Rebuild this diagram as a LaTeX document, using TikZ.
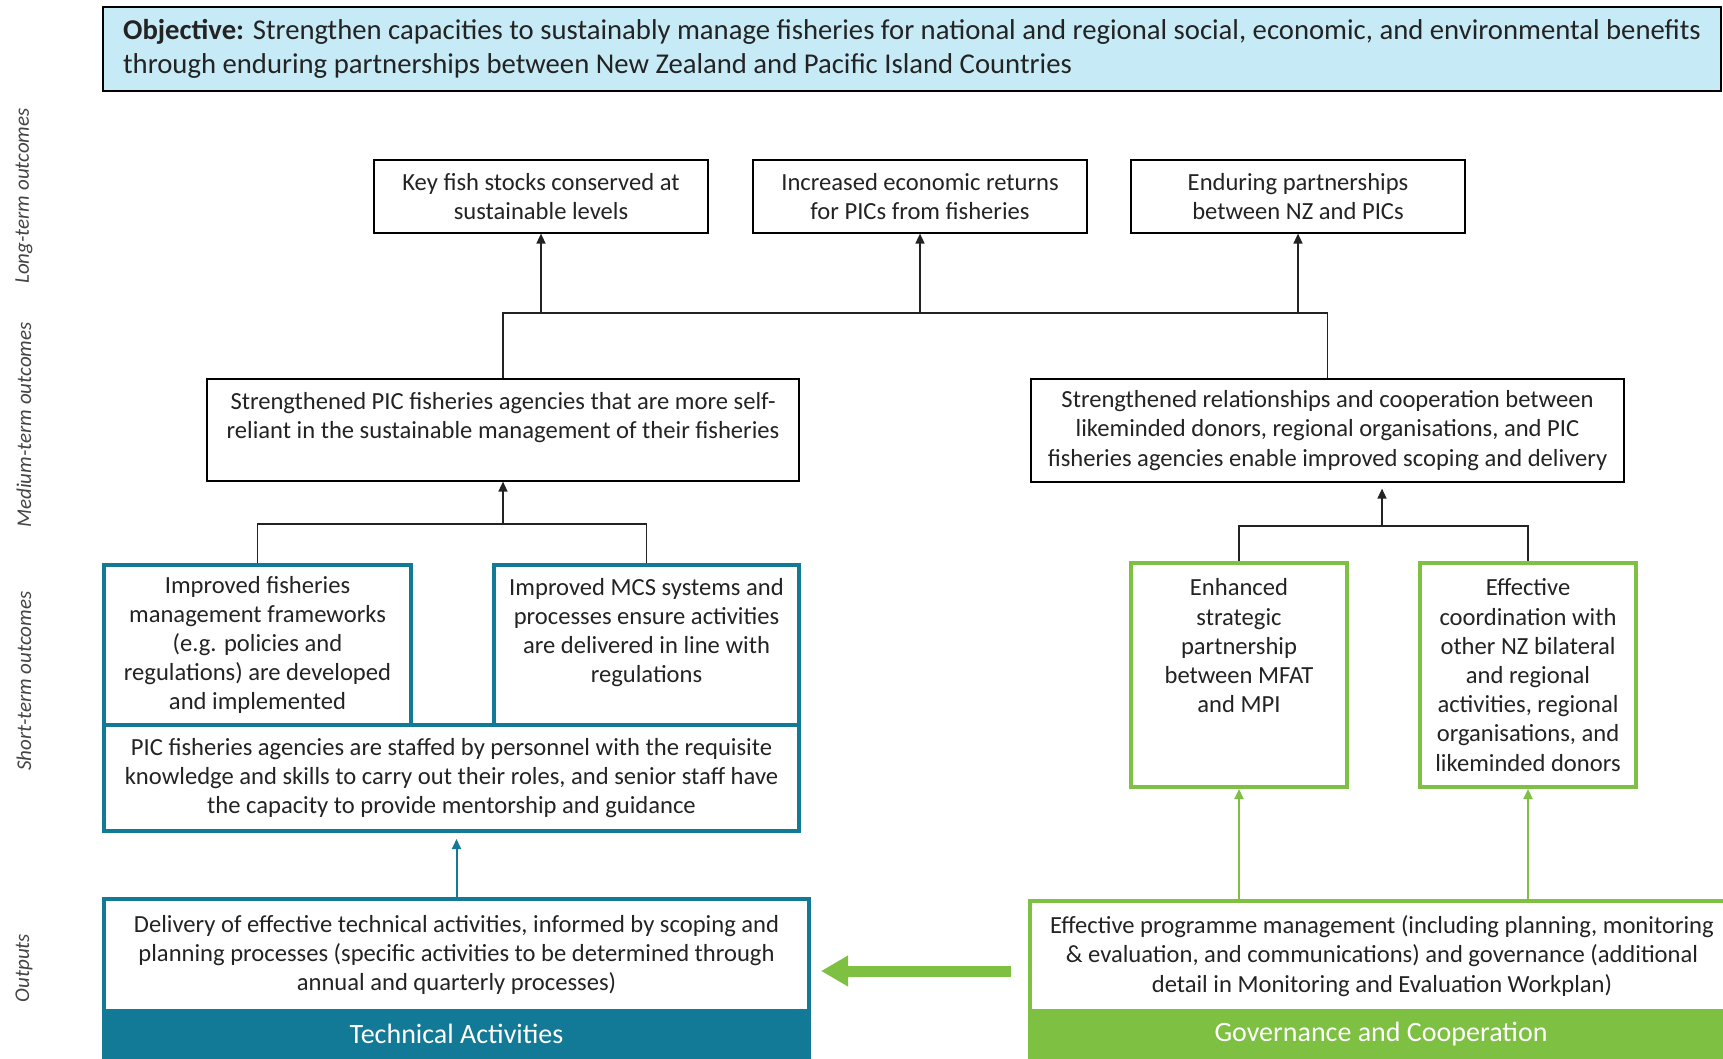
\documentclass[tikz,border=0pt]{standalone}
\usepackage{fontspec}
\setmainfont{Carlito}
\usetikzlibrary{arrows.meta}
\definecolor{teal1}{RGB}{18,122,150}
\definecolor{green1}{RGB}{125,192,66}
\definecolor{objfill}{RGB}{199,235,246}
\definecolor{ink}{RGB}{35,35,35}
\begin{document}
\begin{tikzpicture}[x=0.5pt,y=-0.5pt,
  txt/.style={font=\fontsize{12.3}{14.6}\selectfont, text=ink, align=center, inner sep=0pt},
  blackbox/.style={txt, draw=black, line width=0.6pt},
  tealbox/.style={txt, draw=teal1, line width=2pt},
  greenbox/.style={txt, draw=green1, line width=2pt},
  conn/.style={draw=ink, line width=0.75pt},
  arr/.style={conn, -{Triangle[length=5pt,width=4.5pt]}},
  tealarr/.style={draw=teal1, line width=1pt, -{Triangle[length=5pt,width=4.5pt]}},
  greenarr/.style={draw=green1, line width=1pt, -{Triangle[length=5pt,width=4.5pt]}},
  bigarr/.style={draw=green1, line width=5.5pt, -{Triangle[length=13.5pt,width=14.5pt]}},
  sidelab/.style={rotate=90, font=\fontsize{10.5}{12}\selectfont\itshape, text=ink!85},
  barlab/.style={font=\fontsize{14}{16}\selectfont, text=white, inner sep=0pt}
]
\useasboundingbox (0,0) rectangle (1723,1059);

% objective
\node[txt, draw=black, line width=1pt, fill=objfill, align=left,
  font=\fontsize{14.35}{17}\selectfont,
  minimum width=809pt, minimum height=42pt] (obj) at (912,49)
  {\textbf{Objective:} Strengthen capacities to sustainably manage fisheries for national and regional social, economic, and environmental benefits\\through enduring partnerships between New Zealand and Pacific Island Countries};

% side labels
\node[sidelab] (labLT) at (24,196) {Long-term outcomes};
\node[sidelab] (labMT) at (24,425) {Medium-term outcomes};
\node[sidelab] (labST) at (24,681) {Short-term outcomes};
\node[sidelab] (labOP) at (24,968) {Outputs};

% long-term
\node[blackbox, minimum width=167pt, minimum height=36.5pt] (LT1) at (541,196.5)
  {Key fish stocks conserved at\\sustainable levels};
\node[blackbox, minimum width=167pt, minimum height=36.5pt] (LT2) at (920,196.5)
  {Increased economic returns\\for PICs from fisheries};
\node[blackbox, minimum width=167pt, minimum height=36.5pt] (LT3) at (1298,196.5)
  {Enduring partnerships\\between NZ and PICs};

% medium-term
\node[blackbox, minimum width=296pt, minimum height=51pt] (ML) at (503,430)
  {Strengthened PIC fisheries agencies that are more self-\\reliant in the sustainable management of their fisheries\\~};
\node[blackbox, minimum width=296.5pt, minimum height=51.5pt] (MR) at (1327.5,430.5)
  {Strengthened relationships and cooperation between\\likeminded donors, regional organisations, and PIC\\fisheries agencies enable improved scoping and delivery};

% short-term left
\node[tealbox, minimum width=153.5pt, minimum height=80pt] (A) at (257.5,645)
  {Improved fisheries\\management frameworks\\(e.g. policies and\\regulations) are developed\\and implemented};
\node[tealbox, minimum width=152.5pt, minimum height=80pt] (B) at (646.5,645)
  {Improved MCS systems and\\processes ensure activities\\are delivered in line with\\regulations\\~};
\node[tealbox, minimum width=347.5pt, minimum height=53pt] (C) at (451.5,778)
  {PIC fisheries agencies are staffed by personnel with the requisite\\knowledge and skills to carry out their roles, and senior staff have\\the capacity to provide mentorship and guidance};

% short-term right
\node[greenbox, minimum width=108pt, minimum height=112pt] (D) at (1239,675)
  {Enhanced\\strategic\\partnership\\between MFAT\\and MPI\\~\\~};
\node[greenbox, minimum width=108pt, minimum height=112pt] (E) at (1528,675)
  {Effective\\coordination with\\other NZ bilateral\\and regional\\activities, regional\\organisations, and\\likeminded donors};

% outputs
\node[tealbox, minimum width=352.5pt, minimum height=56pt] (OL) at (456.5,955)
  {Delivery of effective technical activities, informed by scoping and\\planning processes (specific activities to be determined through\\annual and quarterly processes)};
\node[draw=teal1, fill=teal1, line width=2pt, minimum width=352.5pt, minimum height=27pt, inner sep=0pt] (OLbar) at (456.5,1038) {};
\node[barlab] (OLtxt) at (456.5,1034) {Technical Activities};

\node[greenbox, minimum width=352pt, minimum height=55pt] (OR) at (1382,956)
  {Effective programme management (including planning, monitoring\\\& evaluation, and communications) and governance (additional\\detail in Monitoring and Evaluation Workplan)};
\node[draw=green1, fill=green1, line width=2pt, minimum width=352pt, minimum height=27pt, inner sep=0pt] (ORbar) at (1382,1038) {};
\node[barlab] (ORtxt) at (1381,1034) {Governance and Cooperation};

% connectors: top
\coordinate (jtop) at (0,313);
\draw[conn] (ML.north) -- (ML.north |- jtop) -- (MR.north |- jtop) -- (MR.north);
\draw[arr] (LT1.south |- jtop) -- (LT1.south);
\draw[arr] (LT2.south |- jtop) -- (LT2.south);
\draw[arr] (LT3.south |- jtop) -- (LT3.south);

% left medium
\coordinate (jl) at (0,524);
\draw[conn] (A.north) -- (A.north |- jl) -- (B.north |- jl) -- (B.north);
\draw[arr] (ML.south |- jl) -- (ML.south);

% right medium
\coordinate (jr) at (1382,526);
\draw[conn] (D.north) -- (D.north |- jr) -- (E.north |- jr) -- (E.north);
\draw[arr, shorten >=3pt] (jr) -- (jr |- MR.south);

% outputs to short-term
\draw[tealarr, shorten >=3pt] (OL.north) -- (OL.north |- C.south);
\draw[greenarr] (OR.north -| D.south) -- (D.south);
\draw[greenarr] (OR.north -| E.south) -- (E.south);

% big arrow
\coordinate (ay) at (0,971);
\draw[bigarr, shorten <=8.5pt, shorten >=5pt] (OR.west |- ay) -- (OL.east |- ay);
\end{tikzpicture}
\end{document}
